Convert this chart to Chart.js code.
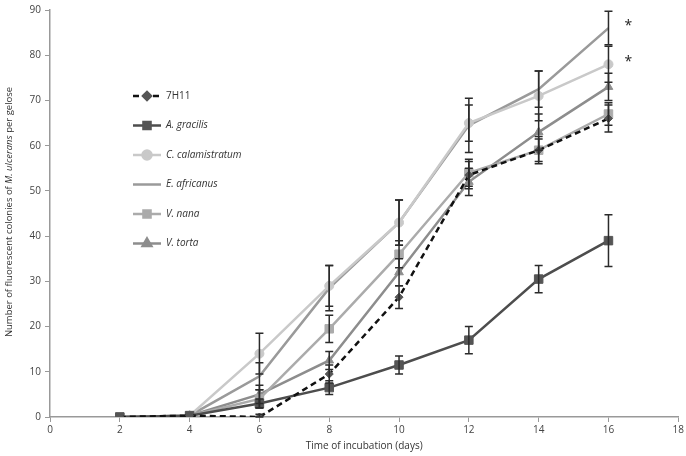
<!DOCTYPE html>
<html>
<head>
<meta charset="utf-8">
<script src="https://cdn.jsdelivr.net/npm/chart.js@4/dist/chart.umd.min.js"></script>
<style>
  html, body { margin: 0; padding: 0; background: #fff; }
  #wrap { width: 686px; height: 456px; position: relative; }
</style>
</head>
<body>
<div id="wrap"><canvas id="growthChart"></canvas></div>
<script>
// incubation days
const days = [2, 4, 6, 8, 10, 12, 14, 16];

// mean colony counts per series
const ctl7H11 = [0, 0.3, 0, 9.5, 26.5, 53.5, 59, 66];
const aGracilis = [0, 0.3, 3, 6.5, 11.5, 17, 30.5, 39];
const cCalamistratum = [0, 0.3, 14, 29, 43, 65, 71, 78];
const eAfricanus = [0, 0.3, 9, 28.5, 43, 64.5, 72.5, 86];
const vNana = [0, 0.3, 4, 19.5, 36, 54, 59, 67];
const vTorta = [0, 0.3, 5, 12.5, 32, 52, 63, 73];

// error bar half-widths
const err7H11 = [0, 0.3, 0.6, 2, 2.5, 3, 2.5, 3];
const errGracilis = [0, 0.3, 1, 1.5, 2, 3, 3, 5.7];
const errCalam = [0, 0.3, 4.5, 4.5, 5, 4, 5.5, 4];
const errAfricanus = [0, 0.3, 3, 5, 5, 6, 4, 3.7];
const errNana = [0, 0.3, 2, 3, 3, 3, 3, 2.5];
const errTorta = [0, 0.3, 2, 2, 3, 3, 4, 3];

const xTicks = [0, 2, 4, 6, 8, 10, 12, 14, 16, 18];
const yTicks = [0, 10, 20, 30, 40, 50, 60, 70, 80, 90];

// significance markers
const starDays = [16, 16];
const starValues = [86, 78];

const toPoints = vals => vals.map((v, i) => ({ x: days[i], y: v }));

const series = [
    { label: '7H11', italic: false, data: ctl7H11, err: err7H11, color: '#111', point: '#555', style: 'rectRot', radius: 4, dash: [6, 4] },
    { label: 'A. gracilis', italic: true, data: aGracilis, err: errGracilis, color: '#4d4d4d', point: '#555', style: 'rect', radius: 6, dash: [] },
    { label: 'C. calamistratum', italic: true, data: cCalamistratum, err: errCalam, color: '#c9c9c9', point: '#c9c9c9', style: 'circle', radius: 4.5, dash: [] },
    { label: 'E. africanus', italic: true, data: eAfricanus, err: errAfricanus, color: '#9a9a9a', point: '#9a9a9a', style: 'circle', radius: 0, dash: [] },
    { label: 'V. nana', italic: true, data: vNana, err: errNana, color: '#ababab', point: '#ababab', style: 'rect', radius: 6, dash: [] },
    { label: 'V. torta', italic: true, data: vTorta, err: errTorta, color: '#8d8d8d', point: '#8d8d8d', style: 'triangle', radius: 5, dash: [] }
];

const datasets = series.map(s => ({
    label: s.label,
    data: toPoints(s.data),
    borderColor: s.color,
    backgroundColor: s.point,
    borderWidth: 2.5,
    borderDash: s.dash,
    pointStyle: s.style,
    pointRadius: s.radius,
    pointBackgroundColor: s.point,
    pointBorderColor: s.point,
    pointBorderWidth: 1,
    tension: 0
}));

const FONT = '"Open Sans", "Liberation Sans", sans-serif';

// error bars drawn through the scales
const errorBars = {
    id: 'errorBars',
    afterDatasetsDraw(chart) {
        const ctx = chart.ctx;
        const xs = chart.scales.x, ys = chart.scales.y;
        ctx.save();
        ctx.strokeStyle = '#2b2b2b';
        ctx.lineWidth = 1.5;
        series.forEach(s => {
            s.data.forEach((v, i) => {
                if (!s.err[i] || s.err[i] < 0.5) return;
                const px = xs.getPixelForValue(days[i]);
                const top = ys.getPixelForValue(v + s.err[i]);
                const bot = ys.getPixelForValue(Math.max(0, v - s.err[i]));
                ctx.beginPath();
                ctx.moveTo(px, top); ctx.lineTo(px, bot);
                ctx.moveTo(px - 4, top); ctx.lineTo(px + 4, top);
                ctx.moveTo(px - 4, bot); ctx.lineTo(px + 4, bot);
                ctx.stroke();
            });
        });
        // asterisks
        ctx.fillStyle = '#222';
        ctx.font = '14px ' + FONT;
        ctx.textAlign = 'left';
        ctx.textBaseline = 'middle';
        starDays.forEach((d, i) => {
            ctx.fillText('*', xs.getPixelForValue(d) + 16, ys.getPixelForValue(starValues[i]) - 2);
        });
        ctx.restore();
    }
};

// legend placed inside plot, plus mixed-style axis title
const innerLegend = {
    id: 'innerLegend',
    afterDraw(chart) {
        const ctx = chart.ctx;
        ctx.save();
        const x0 = 133, y0 = 96, gap = 29.5;
        series.forEach((s, i) => {
            const y = y0 + i * gap;
            ctx.strokeStyle = s.color;
            ctx.lineWidth = 2.5;
            ctx.setLineDash(s.dash);
            ctx.beginPath();
            ctx.moveTo(x0, y); ctx.lineTo(x0 + 28, y);
            ctx.stroke();
            ctx.setLineDash([]);
            if (s.radius > 0) {
                ctx.fillStyle = s.point;
                ctx.strokeStyle = s.point;
                Chart.helpers.drawPoint(ctx, { pointStyle: s.style, radius: Math.min(s.radius, 5), borderWidth: 1 }, x0 + 14, y);
            }
            ctx.fillStyle = '#333';
            ctx.font = (s.italic ? 'italic ' : '') + '10px ' + FONT;
            ctx.textBaseline = 'middle';
            ctx.textAlign = 'left';
            ctx.fillText(s.label, x0 + 33, y);
        });

        // y title: Number of fluorescent colonies of M. ulcerans per gelose
        const parts = [
            ['Number of fluorescent colonies of ', false],
            ['M. ulcerans', true],
            [' per gelose', false]
        ];
        ctx.translate(9, 212);
        ctx.rotate(-Math.PI / 2);
        let total = 0;
        parts.forEach(p => {
            ctx.font = (p[1] ? 'italic ' : '') + '9.5px ' + FONT;
            total += ctx.measureText(p[0]).width;
        });
        let cx = -total / 2;
        ctx.fillStyle = '#333';
        ctx.textBaseline = 'middle';
        parts.forEach(p => {
            ctx.font = (p[1] ? 'italic ' : '') + '9.5px ' + FONT;
            ctx.fillText(p[0], cx, 0);
            cx += ctx.measureText(p[0]).width;
        });
        ctx.restore();
    }
};

new Chart(document.getElementById('growthChart'), {
    type: 'line',
    data: { datasets: datasets },
    options: {
        responsive: true,
        maintainAspectRatio: false,
        animation: false,
        layout: { padding: { top: 6, right: 7, left: 0, bottom: 0 } },
        plugins: {
            legend: { display: false },
            tooltip: { enabled: false }
        },
        scales: {
            x: {
                type: 'linear',
                min: 0,
                max: 18,
                afterBuildTicks: axis => { axis.ticks = xTicks.map(v => ({ value: v })); },
                grid: { drawOnChartArea: false, color: '#999', tickLength: 5, tickColor: '#999' },
                border: { color: '#999', width: 1.5 },
                ticks: { color: '#444', font: { family: FONT, size: 10 }, padding: 2 },
                title: { display: true, text: 'Time of incubation (days)', color: '#333', font: { family: FONT, size: 10 }, padding: { top: 2 } },
                afterFit: axis => { axis.height = 39; }
            },
            y: {
                min: 0,
                max: 90,
                afterBuildTicks: axis => { axis.ticks = yTicks.map(v => ({ value: v })); },
                grid: { drawOnChartArea: false, color: '#999', tickLength: 5, tickColor: '#999' },
                border: { color: '#999', width: 1.5 },
                ticks: { color: '#444', font: { family: FONT, size: 10 }, padding: 4 },
                afterFit: axis => { axis.width = 50; }
            }
        }
    },
    plugins: [errorBars, innerLegend]
});
</script>
</body>
</html>
